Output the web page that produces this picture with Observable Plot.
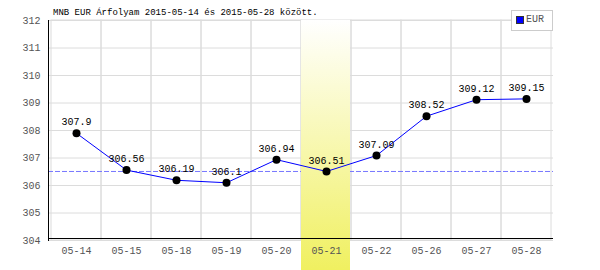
<!DOCTYPE html>
<html><head><meta charset="utf-8">
<script src="https://cdn.jsdelivr.net/npm/d3@7"></script>
<script src="https://cdn.jsdelivr.net/npm/@observablehq/plot@0.6"></script>
<style>
body{margin:0;background:#fff;}
#wrap{position:relative;width:600px;height:270px;font-family:"Liberation Mono","DejaVu Sans Mono",monospace;}
#title{position:absolute;left:53px;top:8px;font-size:9px;color:#000;white-space:nowrap;}
#legend{position:absolute;left:511px;top:10px;width:40px;height:19px;border:1px solid #ccc;background:#fff;font-size:10px;color:#555;}
#legend span.sw{position:absolute;left:4px;top:5px;width:6px;height:6px;background:#00f;border:1px solid #333;}
#legend span.lb{position:absolute;left:14px;top:3px;}
</style></head>
<body><div id="wrap"><div id="chart"></div><div id="title">MNB EUR Árfolyam 2015-05-14 és 2015-05-28 között.</div><div id="legend"><span class="sw"></span><span class="lb">EUR</span></div></div>
<script>
const dates = ["05-14","05-15","05-18","05-19","05-20","05-21","05-22","05-26","05-27","05-28"];
const eur = [307.9, 306.56, 306.19, 306.1, 306.94, 306.51, 307.09, 308.52, 309.12, 309.15];
const labels = ["307.9","306.56","306.19","306.1","306.94","306.51","307.09","308.52","309.12","309.15"];
const yTicks = [304,305,306,307,308,309,310,311,312];
const highlightDate = "05-21";
const refValue = 306.51;

const data = dates.map((d,i)=>({date:d, value:eur[i], label:labels[i]}));
const yMin = 304, yMax = 312;
const marginTop = 20, marginBottom = 30, height = 270;
const pxPerUnit = (height - marginTop - marginBottom) / (yMax - yMin);
const bandBottom = yMin - marginBottom / pxPerUnit;

const plot = Plot.plot({
  width: 600, height, marginLeft: 48, marginRight: 47, marginTop, marginBottom,
  style: {fontFamily: "'Liberation Mono','DejaVu Sans Mono',monospace", fontSize: "10px", background: "#fff"},
  x: {type: "band", domain: dates, padding: 0, label: null},
  y: {domain: [yMin, yMax], label: null, ticks: yTicks},
  marks: [
    Plot.ruleY(yTicks, {stroke: "#dcdcdc"}),
    Plot.barY(dates, {x: d => d, y1: yMin, y2: yMax, fill: "none", stroke: "#dcdcdc"}),
    Plot.ruleY([refValue], {stroke: "#7777ff", strokeWidth: 1, strokeDasharray: "5,2"}),
    Plot.barY([highlightDate], {x: d => d, y1: yMax, y2: bandBottom, insetRight: 1, fill: "url(#hlgrad)"}),
    Plot.axisY({ticks: yTicks, tickSize: 0, tickPadding: 8, fill: "#555", fontSize: 10}),
    Plot.axisX({tickSize: 0, tickPadding: 6, fill: "#555", fontSize: 10}),
    Plot.frame({anchor: "left", stroke: "#000"}),
    Plot.ruleY([yMin], {stroke: "#000", dy: -2}),
    Plot.line(data, {x: "date", y: "value", stroke: "#0000ff", strokeWidth: 1}),
    Plot.dot(data, {x: "date", y: "value", r: 4, fill: "#000"}),
    Plot.text(data, {x: "date", y: "value", text: "label", dy: -11, fill: "#000", fontSize: 10})
  ]
});
const defs = d3.select(plot).insert("defs", ":first-child");
const g = defs.append("linearGradient").attr("id","hlgrad").attr("x1",0).attr("y1",0).attr("x2",0).attr("y2",1);
g.append("stop").attr("offset","0%").attr("stop-color","#ffffff");
g.append("stop").attr("offset","100%").attr("stop-color","#f0f060");
document.getElementById("chart").append(plot);
</script></body></html>
